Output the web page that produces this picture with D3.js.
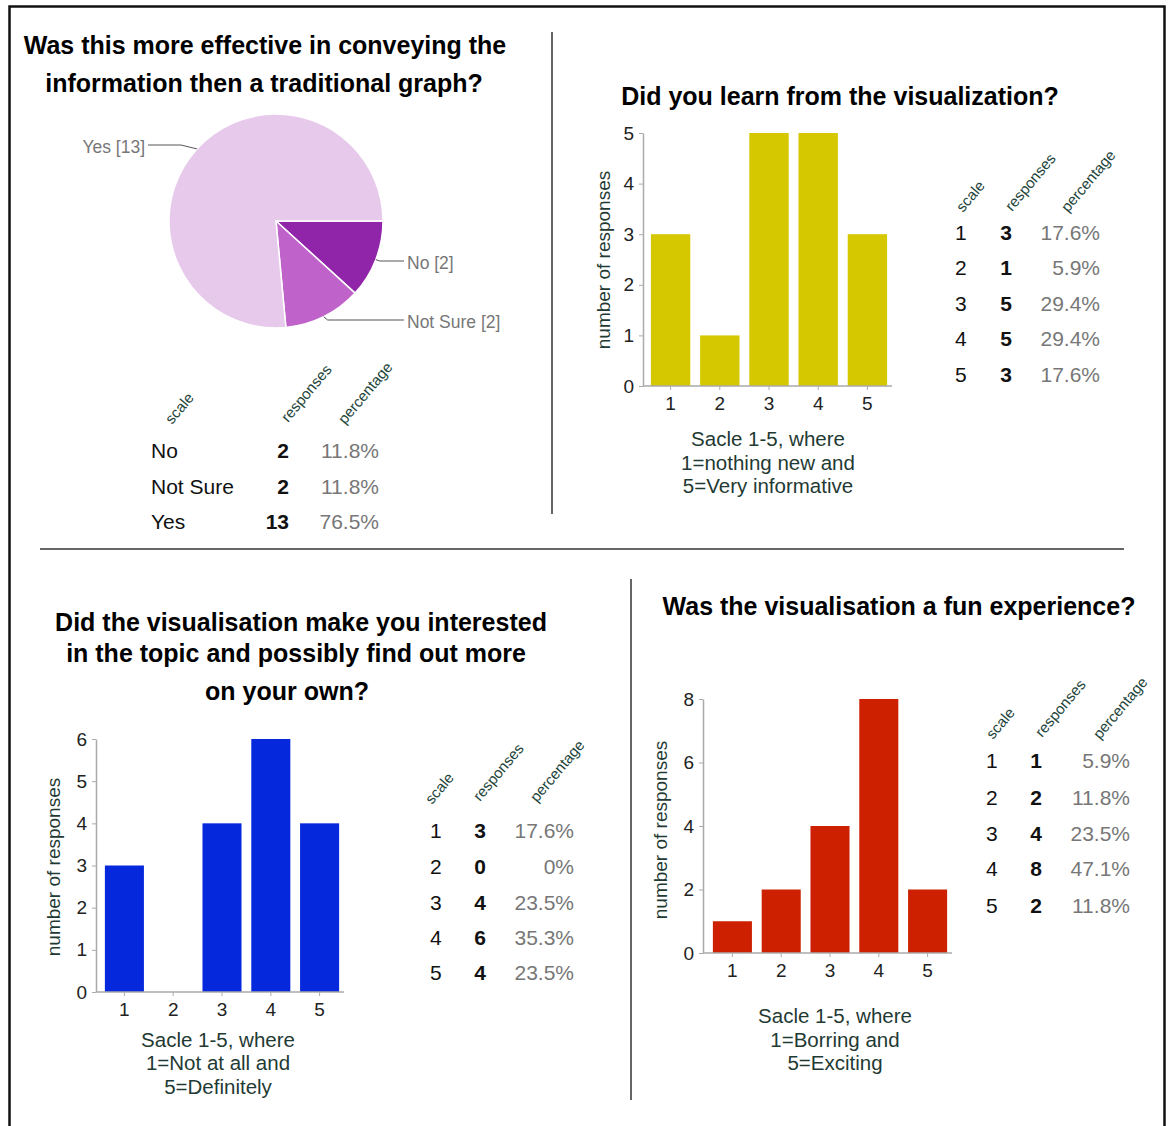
<!DOCTYPE html>
<html>
<head>
<meta charset="utf-8">
<script src="https://cdn.jsdelivr.net/npm/d3@7"></script>
<style>
  body { margin: 0; background: #fff; }
  svg { display: block; }
  text { font-family: "Liberation Sans", Arial, Helvetica, sans-serif; }
</style>
</head>
<body>
<svg id="board" width="1168" height="1126"></svg>
<script>
// ---- survey data ----
const effectiveCategories = ["No", "Not Sure", "Yes"];
const effectiveCounts = [2, 2, 13];

const scaleCategories = ["1", "2", "3", "4", "5"];
const learnCounts = [3, 1, 5, 5, 3];
const interestCounts = [3, 0, 4, 6, 4];
const funCounts = [1, 2, 4, 8, 2];

const learnTicks = [0, 1, 2, 3, 4, 5];
const interestTicks = [0, 1, 2, 3, 4, 5, 6];
const funTicks = [0, 2, 4, 6, 8];

const tableHeaders = ["scale", "responses", "percentage"];

// ---- helpers ----
const svg = d3.select("#board");
const FONT_TITLE = "bold 25px 'Liberation Sans', Arial, sans-serif";
const axisTextColor = "#1f3a33";

function pctLabel(v, total) {
  if (v === 0) return "0%";
  return (Math.round(v / total * 1000) / 10).toFixed(1) + "%";
}

function titleLines(lines) {
  lines.forEach(l => {
    svg.append("text")
      .attr("x", l.x).attr("y", l.y)
      .attr("text-anchor", "middle")
      .style("font", FONT_TITLE)
      .attr("fill", "#000")
      .text(l.t);
  });
}

function drawTable(g, labels, counts, cfg) {
  const total = d3.sum(counts);
  // rotated column headers
  tableHeaders.forEach((h, i) => {
    g.append("text")
      .attr("transform", `translate(${cfg.head[i][0]},${cfg.head[i][1]}) rotate(-50)`)
      .attr("font-size", 15)
      .attr("fill", "#23443a")
      .text(h);
  });
  const rows = g.selectAll("g.row").data(labels.map((l, i) => ({ l, v: counts[i] })))
    .join("g").attr("class", "row")
    .attr("transform", (d, i) => `translate(0,${cfg.rows[i]})`);
  rows.append("text").attr("x", cfg.labelX).attr("dy", "0.36em")
    .attr("font-size", 21).attr("fill", "#111").text(d => d.l);
  rows.append("text").attr("x", cfg.countX).attr("dy", "0.36em")
    .attr("text-anchor", "end").attr("font-size", 21).attr("font-weight", "bold")
    .attr("fill", "#111").text(d => d.v);
  rows.append("text").attr("x", cfg.pctX).attr("dy", "0.36em")
    .attr("text-anchor", "end").attr("font-size", 21).attr("fill", "#777")
    .text(d => pctLabel(d.v, total));
}

function drawBars(counts, ticks, color, cfg) {
  const g = svg.append("g");
  const x = d3.scaleBand().domain(scaleCategories).range(cfg.xRange)
    .paddingInner(0.2).paddingOuter(0.1);
  const y = d3.scaleLinear().domain([0, d3.max(ticks)]).range(cfg.yRange);

  g.selectAll("rect.bar").data(counts)
    .join("rect").attr("class", "bar")
    .attr("x", (d, i) => x(scaleCategories[i]))
    .attr("width", x.bandwidth())
    .attr("y", d => y(d))
    .attr("height", d => y(0) - y(d))
    .attr("fill", color);

  // y axis
  const ya = g.append("g").attr("transform", `translate(${cfg.axisX},0)`)
    .call(d3.axisLeft(y).tickValues(ticks).tickFormat(d3.format("d"))
      .tickSize(4).tickSizeOuter(0).tickPadding(5));
  ya.select(".domain").attr("stroke", "#aaa").attr("stroke-width", 1.5);
  ya.selectAll(".tick line").attr("stroke", "#aaa");
  ya.selectAll(".tick text").attr("font-size", 19).attr("fill", "#222")
    .style("font-family", "'Liberation Sans', Arial, sans-serif");

  // x axis
  const xa = g.append("g").attr("transform", `translate(0,${y(0)})`)
    .call(d3.axisBottom(x).tickSize(4).tickSizeOuter(0).tickPadding(7));
  xa.select(".domain").remove();
  xa.selectAll(".tick line").attr("stroke", "#aaa");
  xa.selectAll(".tick text").attr("font-size", 19).attr("fill", "#222")
    .style("font-family", "'Liberation Sans', Arial, sans-serif");
  g.append("line")
    .attr("x1", cfg.axisX).attr("x2", cfg.xRange[1])
    .attr("y1", y(0)).attr("y2", y(0))
    .attr("stroke", "#aaa").attr("stroke-width", 1.5);

  // axis titles
  g.append("text")
    .attr("transform", `translate(${cfg.yTitle[0]},${cfg.yTitle[1]}) rotate(-90)`)
    .attr("text-anchor", "middle").attr("dy", "0.35em")
    .attr("font-size", 19).attr("fill", axisTextColor)
    .text("number of responses");
  cfg.xTitle.lines.forEach((t, i) => {
    g.append("text")
      .attr("x", cfg.xTitle.x).attr("y", cfg.xTitle.y[i]).attr("dy", "0.35em")
      .attr("text-anchor", "middle").attr("font-size", 20.5).attr("fill", axisTextColor)
      .text(t);
  });
}

// ---- frame and dividers ----
svg.append("rect").attr("x", 9.5).attr("y", 6.5).attr("width", 1155).attr("height", 1150)
  .attr("fill", "none").attr("stroke", "#111").attr("stroke-width", 2.5);
svg.append("line").attr("x1", 552).attr("x2", 552).attr("y1", 32).attr("y2", 514)
  .attr("stroke", "#333").attr("stroke-width", 1.5);
svg.append("line").attr("x1", 40).attr("x2", 1124).attr("y1", 549).attr("y2", 549)
  .attr("stroke", "#333").attr("stroke-width", 1.5);
svg.append("line").attr("x1", 631).attr("x2", 631).attr("y1", 579).attr("y2", 1100)
  .attr("stroke", "#333").attr("stroke-width", 1.5);

// ---- panel 1: pie ----
titleLines([
  { t: "Was this more effective in conveying the", x: 265, y: 54 },
  { t: "information then a traditional graph?", x: 264, y: 92 }
]);

const pieColors = d3.scaleOrdinal().domain(effectiveCategories)
  .range(["#9125a9", "#bf63ca", "#e7caeb"]);
const pieCx = 276, pieCy = 221, pieR = 107;
const pie = d3.pie().sort(null).startAngle(Math.PI / 2).endAngle(Math.PI / 2 + 2 * Math.PI);
const arcs = pie(effectiveCounts);
const arcGen = d3.arc().innerRadius(0).outerRadius(pieR);
const pg = svg.append("g").attr("transform", `translate(${pieCx},${pieCy})`);
pg.selectAll("path").data(arcs).join("path")
  .attr("d", arcGen)
  .attr("fill", (d, i) => pieColors(effectiveCategories[i]))
  .attr("stroke", "#fff").attr("stroke-width", 1.5);

// slice labels with leader lines
const pieLabelPos = [
  { x: 407, y: 263, anchor: "start" },
  { x: 407, y: 322, anchor: "start" },
  { x: 145, y: 147, anchor: "end" }
];
arcs.forEach((a, i) => {
  const mid = (a.startAngle + a.endAngle) / 2;
  const ex = pieCx + pieR * Math.sin(mid), ey = pieCy - pieR * Math.cos(mid);
  const p = pieLabelPos[i];
  const ly = p.y - 2;
  const right = p.anchor === "start";
  const elbowX = right ? ex + 4 : ex - 16;
  const endX = right ? p.x - 3 : p.x + 3;
  svg.append("polyline")
    .attr("points", `${ex},${ey} ${elbowX},${ly} ${endX},${ly}`)
    .attr("fill", "none").attr("stroke", "#555").attr("stroke-width", 1);
  svg.append("text")
    .attr("x", p.x).attr("y", p.y).attr("dy", "0.35em")
    .attr("text-anchor", p.anchor)
    .attr("font-size", 17.5).attr("fill", "#777")
    .text(`${effectiveCategories[i]} [${effectiveCounts[i]}]`);
});

drawTable(svg.append("g"), effectiveCategories, effectiveCounts, {
  head: [[172, 425], [288, 423], [345, 425]],
  rows: [450, 486, 521],
  labelX: 151, countX: 289, pctX: 379
});

// ---- panel 2: learning ----
titleLines([{ t: "Did you learn from the visualization?", x: 840, y: 105 }]);
drawBars(learnCounts, learnTicks, "#d6c800", {
  axisX: 643, xRange: [646, 892], yRange: [386, 133],
  yTitle: [603, 260],
  xTitle: { x: 768, y: [439, 463, 486], lines: ["Sacle 1-5, where", "1=nothing new and", "5=Very informative"] }
});
drawTable(svg.append("g"), scaleCategories, learnCounts, {
  head: [[963, 213], [1012, 212], [1068, 213]],
  rows: [232, 267, 303, 338, 374],
  labelX: 955, countX: 1012, pctX: 1100
});

// ---- panel 3: interest ----
titleLines([
  { t: "Did the visualisation make you interested", x: 301, y: 631 },
  { t: "in the topic and possibly find out more", x: 296, y: 662 },
  { t: "on your own?", x: 287, y: 700 }
]);
drawBars(interestCounts, interestTicks, "#0628dc", {
  axisX: 96, xRange: [100, 344], yRange: [992, 739],
  yTitle: [53, 867],
  xTitle: { x: 218, y: [1040, 1063, 1087], lines: ["Sacle 1-5, where", "1=Not at all and", "5=Definitely"] }
});
drawTable(svg.append("g"), scaleCategories, interestCounts, {
  head: [[432, 805], [480, 802], [537, 803]],
  rows: [830, 866, 902, 937, 972],
  labelX: 430, countX: 486, pctX: 574
});

// ---- panel 4: fun ----
titleLines([{ t: "Was the visualisation a fun experience?", x: 899, y: 615 }]);
drawBars(funCounts, funTicks, "#cc2000", {
  axisX: 703, xRange: [708, 952], yRange: [953, 699],
  yTitle: [660, 830],
  xTitle: { x: 835, y: [1016, 1040, 1063], lines: ["Sacle 1-5, where", "1=Borring and", "5=Exciting"] }
});
drawTable(svg.append("g"), scaleCategories, funCounts, {
  head: [[993, 740], [1042, 738], [1100, 740]],
  rows: [760, 797, 833, 868, 905],
  labelX: 986, countX: 1042, pctX: 1130
});
</script>
</body>
</html>
